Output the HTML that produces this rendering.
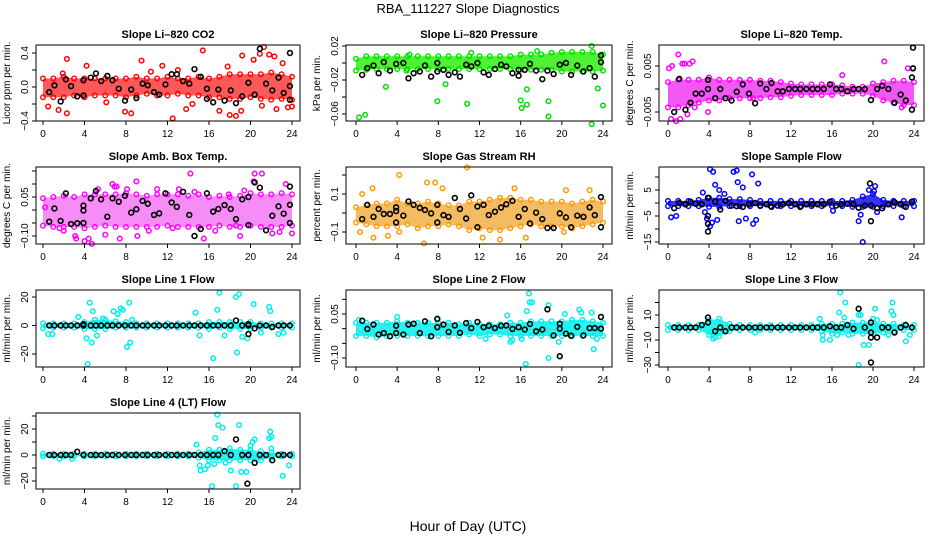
<!DOCTYPE html>
<html><head><meta charset="utf-8"><style>
html,body{margin:0;padding:0;background:#fff}
svg{display:block;font-family:"Liberation Sans",sans-serif}
</style></head><body>
<svg id="chart" width="936" height="540" viewBox="0 0 936 540">
<text x="468" y="13" text-anchor="middle" font-size="13">RBA_111227  Slope Diagnostics</text>
<text x="468" y="531" text-anchor="middle" font-size="14">Hour of Day (UTC)</text>
</svg>
<script>
const hours = [0,1,2,3,4,5,6,7,8,9,10,11,12,13,14,15,16,17,18,19,20,21,22,23,24];
const blackX = [0.6,1.1,1.7,2.2,2.7,3.3,3.9,4.6,5.1,5.6,6.2,6.7,7.3,7.9,8.5,9.0,9.6,10.1,10.7,11.2,11.8,12.4,12.9,13.5,14.1,14.6,15.2,15.8,16.4,16.9,17.5,18.1,18.6,19.2,19.8,20.4,20.9,21.5,22.1,22.7,23.2,23.8];
const xTicks = [0,4,8,12,16,20,24];

// Panel 1: CO2
const p1Lo = [-0.12,-0.12,-0.12,-0.1,-0.12,-0.1,-0.1,-0.1,-0.12,-0.1,-0.08,-0.1,-0.1,-0.08,-0.1,-0.1,-0.12,-0.12,-0.14,-0.14,-0.12,-0.14,-0.15,-0.14,-0.15];
const p1Hi = [0.1,0.1,0.12,0.1,0.1,0.1,0.1,0.1,0.1,0.12,0.1,0.1,0.12,0.1,0.1,0.12,0.1,0.12,0.15,0.15,0.15,0.15,0.17,0.15,0.12];
const p1OX = [0.5,2.3,2.3,1.5,7.9,8.5,9.5,11.5,12.5,15.4,13.8,17,18,18.6,19.2,20.3,20.9,21.3,21.8,22.3,22.5,23.6,24,19.1,4.2,13,1.9,6.1,10.4,14.4,17.8,21.1,23.1];
const p1OY = [-0.23,0.33,-0.31,-0.27,-0.29,-0.31,0.31,0.25,-0.37,0.43,-0.26,-0.28,-0.33,-0.34,0.37,0.32,0.39,0.47,0.38,0.36,-0.26,-0.24,-0.23,-0.28,0.25,0.2,0.16,-0.18,0.18,-0.2,0.24,-0.22,0.28];
const p1BY = [-0.06,0.02,-0.17,0.09,0.01,-0.11,0.08,0.11,0.16,0.07,0.13,0.08,-0.02,-0.16,-0.03,-0.13,0.04,0.02,-0.06,-0.09,0.03,0.15,0.15,0.07,0.04,0.21,0.12,-0.14,-0.18,-0.03,-0.16,-0.04,-0.19,-0.11,0.05,-0.09,0.45,0.04,-0.04,0.11,-0.07,0.4];
const p1EX = [23.8,23.8,15.8,3.9];
const p1EY = [0.01,-0.15,-0.02,-0.1];

// Panel 2: Pressure
const p2Lo = [-0.009,-0.008,-0.007,-0.007,-0.007,-0.007,-0.007,-0.007,-0.007,-0.007,-0.007,-0.007,-0.007,-0.007,-0.007,-0.007,-0.008,-0.008,-0.008,-0.008,-0.01,-0.01,-0.01,-0.01,-0.009];
const p2Hi = [0.005,0.008,0.008,0.008,0.008,0.008,0.008,0.008,0.008,0.008,0.008,0.008,0.008,0.008,0.008,0.008,0.01,0.01,0.01,0.012,0.013,0.013,0.013,0.013,0.01];
const p2OX = [0.3,0.9,2.9,7.9,8.7,10.8,11.2,16,16.1,16.6,16.6,17.6,18.7,18.7,22.9,22.9,23.5,24,5.2,4.9];
const p2OY = [-0.064,-0.061,-0.028,-0.045,-0.025,-0.048,0.012,-0.044,-0.053,-0.031,-0.049,0.014,-0.045,-0.063,-0.072,0.02,-0.03,-0.05,0.01,-0.009];
const p2BY = [-0.014,-0.006,-0.003,-0.012,0.001,-0.009,-0.001,0.0,-0.018,-0.012,-0.010,-0.003,-0.016,-0.010,-0.008,-0.014,-0.011,-0.016,-0.002,-0.004,0.0,-0.011,-0.014,-0.007,-0.002,-0.004,-0.012,-0.015,-0.008,-0.001,-0.009,-0.019,-0.009,-0.013,-0.002,0.0,-0.014,-0.003,-0.010,-0.006,-0.016,0.009];
const p2EX = [23.8,15.8,7.9];
const p2EY = [0.001,-0.008,0.0];

// Panel 3: Li-820 Temp
const p3Lo = [-0.004,-0.004,-0.0035,-0.003,-0.0025,-0.0025,-0.002,-0.002,-0.002,-0.002,-0.0018,-0.0018,-0.0015,-0.0013,-0.0013,-0.0013,-0.0013,-0.001,-0.001,-0.001,-0.0015,-0.0025,-0.003,-0.0035,-0.0035];
const p3Hi = [0.0015,0.002,0.002,0.002,0.0025,0.002,0.002,0.002,0.002,0.0018,0.0018,0.0015,0.0012,0.001,0.001,0.001,0.001,0.0008,0.0005,0.0005,0.0012,0.0015,0.0018,0.0018,0.0015];
const p3OX = [0.1,0.4,1.0,1.4,1.6,2.1,2.4,0.8,1.2,1.9,3.9,21.1,23.4,23.9,22.8,17,8.3,0.3,2.6];
const p3OY = [0.0045,0.005,0.0075,0.0055,0.0055,0.0055,0.006,-0.007,-0.0065,-0.0055,-0.005,0.006,0.0045,0.0045,-0.004,0.003,-0.002,-0.0065,-0.004];
const p3BY = [-0.005,0.0022,-0.0045,-0.003,-0.001,-0.001,0.0,-0.002,0.0,-0.002,-0.0025,-0.0006,0.001,-0.001,-0.0031,0.0012,0.0,0.0013,-0.0005,-0.0005,0.0,0.0,0.0,0.0,0.0,0.0,0.0,0.001,0.0,0.0,-0.0005,0.0,0.0,0.0,-0.0024,0.0,0.0007,0.0,-0.003,-0.0012,-0.0025,-0.0045];
const p3EX = [23.9,23.9,23.8,3.9];
const p3EY = [0.009,0.0045,0.0025,0.002];

// Panel 4: Amb. Box Temp
const p4Lo = [-0.06,-0.065,-0.065,-0.065,-0.07,-0.065,-0.06,-0.065,-0.065,-0.065,-0.065,-0.065,-0.06,-0.065,-0.065,-0.065,-0.065,-0.06,-0.065,-0.065,-0.06,-0.065,-0.065,-0.065,-0.06];
const p4Hi = [0.045,0.05,0.055,0.05,0.06,0.06,0.06,0.06,0.065,0.06,0.055,0.06,0.06,0.06,0.055,0.06,0.05,0.055,0.05,0.055,0.065,0.06,0.06,0.065,0.06];
const p4OX = [6.7,6.9,7.1,8.1,9.0,9.1,14.2,14.6,4.0,4.4,4.7,6.0,7.4,15.5,19.0,20.4,20.3,21.1,22.1,24,18.6,3.2,3.1,0.2,1.6,11,12.5,17.9,23.4,2.0,5.3,10.2,13.1,16.6,19.4,22.8];
const p4OY = [0.1,0.09,0.09,0.08,0.11,-0.1,0.14,0.07,-0.12,-0.11,-0.13,-0.095,-0.11,-0.11,-0.1,0.14,0.11,0.14,-0.09,-0.09,-0.06,-0.11,-0.1,0.01,-0.07,0.08,-0.07,0.06,0.1,-0.08,0.08,-0.08,0.08,-0.08,0.075,-0.085];
const p4BY = [-0.045,0.006,-0.042,0.064,-0.054,-0.051,0.017,0.045,0.073,0.041,-0.026,0.045,0.032,0.055,-0.01,0.003,0.035,0.024,-0.019,-0.013,0.064,0.029,0.012,0.07,-0.019,-0.1,-0.073,0.064,-0.006,0.004,0.019,0.004,-0.035,0.041,-0.058,0.106,0.086,-0.078,-0.022,0.014,-0.014,0.09];
const p4EX = [3.9,3.9,19.8,23.8,23.8];
const p4EY = [-0.002,-0.05,0.05,-0.05,0.02];

// Panel 5: Gas Stream RH
const p5Lo = [-0.05,-0.06,-0.07,-0.07,-0.07,-0.06,-0.08,-0.07,-0.07,-0.06,-0.07,-0.09,-0.08,-0.09,-0.09,-0.08,-0.07,-0.06,-0.07,-0.07,-0.07,-0.08,-0.07,-0.06,-0.05];
const p5Hi = [0.03,0.04,0.05,0.05,0.07,0.05,0.05,0.06,0.05,0.04,0.04,0.06,0.06,0.07,0.08,0.08,0.07,0.07,0.06,0.06,0.06,0.05,0.06,0.07,0.06];
const p5OX = [0.4,0.6,1.6,1.7,4.2,6.6,6.9,7.7,8.4,10.8,12.3,14.0,16.5,20.4,20.2,22.7,15.4,3.1,4.2];
const p5OY = [-0.1,0.1,0.13,-0.13,0.2,-0.16,0.16,0.16,0.13,0.24,-0.13,-0.14,-0.13,0.12,-0.1,0.12,0.13,-0.12,-0.1];
const p5BY = [-0.032,0.043,-0.02,0.021,-0.005,-0.005,0.01,-0.014,0.061,0.043,0.027,0.016,-0.002,0.043,-0.011,-0.02,0.079,0.021,-0.029,0.093,0.034,0.043,-0.011,0.007,0.029,0.046,0.064,-0.02,0.021,-0.055,0.002,-0.032,-0.079,-0.079,-0.002,-0.023,-0.075,-0.014,-0.02,0.03,-0.011,0.084];
const p5EX = [3.9,3.9,7.9,11.8,23.8];
const p5EY = [0.03,-0.05,-0.05,-0.075,-0.075];

// Panel 6: Sample Flow
const p6Lo = [-1.2,-1.2,-1.2,-1.2,-1.5,-1.5,-1.2,-1.2,-1.2,-1.2,-1.2,-1.2,-1.2,-1.2,-1.2,-1.2,-1.2,-1.2,-1.5,-1.5,-1.5,-1.2,-1.2,-1.2,-1.2];
const p6Hi = [0.8,0.8,0.8,1.2,2,2,1.5,1.5,1.2,0.8,0.8,0.8,0.8,0.8,0.8,0.8,0.8,0.8,1.2,2.5,3.5,1.2,0.8,0.8,0.8];
const p6OX = [0.3,0.8,3.4,3.6,4.1,4.4,4.6,4.8,5.0,4.3,4.1,6.4,6.7,6.8,6.9,7.3,7.6,8.2,8.3,8.6,8.8,18.6,18.8,19.0,19.6,20.1,20.2,20.4,22.8,16.1,5.5,3.8];
const p6OY = [-5.5,-5,4,-3.5,13,12,7,-6.5,5,-7.5,-9,12,12.5,8,-7,6,-6,11,-8,-6.5,7.5,-7,-4.5,-15,5,4.5,6.5,-3.5,-5.5,-3,3.5,-6];
const p6BY = [-2,0,-0.5,0.5,-0.3,-0.5,2,0.5,-2.5,0.8,-1,-1.2,-1.5,-0.5,0,-1,-0.5,-1.5,-1,-0.5,0,-0.5,-1.5,-0.5,-0.5,-0.5,-0.5,0.5,-1,-0.5,-0.3,-0.5,-1.8,-1,-1,-2,-2,-0.5,0.3,-0.5,-1.5,0.5];
const p6EX = [3.9,3.9,3.9,19.7,19.8];
const p6EY = [-11,-8,-5,7.5,-7];

// Panel 7: Line 1 Flow
const p7Lo = [-2,-1.5,-1.5,-1.5,-2.5,-2.5,-2.5,-1.5,-1.5,-1.5,-1.5,-1.5,-1.5,-1.5,-1.5,-1.5,-2.5,-1.5,-2.5,-2.5,-2.5,-1.5,-1.5,-1.5,-1.5];
const p7Hi = [1.5,1.5,1.5,1.5,2.5,4,4,3,2.5,1.5,1.5,1.5,1.5,1.5,1.5,1.5,2.5,2.5,2.5,2.5,2.5,1.5,1.5,1.5,1.5];
const p7OX = [0.5,0.9,4.2,4.3,4.5,4.8,4.7,5.2,3.4,6.8,7.2,7.5,7.7,8.1,8.3,8.4,8.6,14.7,15.1,16.4,16.8,17.0,17.5,18.6,18.7,18.9,19.2,19.7,20.3,21,21.8,21.9,22.7,23.2,5.8];
const p7OY = [-6,-6,-9,-27,16,10,-12,-7,6,10,8,12,11,-15,16,-12,4,9,-7,-23,11,23,-7,20,-19,22,-8,-9,15,-5,13,10,-6,-5,5];
const p7BY = [0,0,0,0,0,0,0,0,0,0,0,0,0,0,0,0,0,0,0,0,0,0,0,0,0,0,0,0,0,0,0,0,3.5,0,0,-2,0,0,-1,0,0,0];
const p7EX = [3.9,19.8,19.8];
const p7EY = [1,-6,1];

// Panel 8: Line 2 Flow
const p8Lo = [-0.025,-0.025,-0.03,-0.025,-0.025,-0.025,-0.025,-0.025,-0.025,-0.025,-0.025,-0.02,-0.025,-0.02,-0.02,-0.025,-0.025,-0.025,-0.025,-0.025,-0.025,-0.025,-0.025,-0.025,-0.025];
const p8Hi = [0.02,0.02,0.02,0.02,0.025,0.02,0.02,0.02,0.02,0.02,0.015,0.02,0.015,0.015,0.015,0.02,0.02,0.025,0.025,0.025,0.025,0.03,0.03,0.025,0.02];
const p8OX = [16.8,16.9,17.1,16.6,18.7,18.7,16.5,15.0,15.2,16.1,19.7,23.1,23.4,21.7,21.9,20.3,14.7,12.6,0.3,4.0,7.9,22.9];
const p8OY = [0.12,0.09,0.09,0.06,0.08,-0.1,-0.12,-0.045,-0.04,-0.035,-0.045,-0.07,-0.035,0.065,0.055,0.05,0.045,-0.035,0.03,0.04,0.035,0.055];
const p8BY = [0.027,-0.001,0.014,-0.02,-0.015,-0.026,-0.015,-0.02,0.014,0.017,-0.015,0.025,-0.026,0.033,0.014,-0.011,0.011,-0.014,0.019,0.002,0.023,0.005,0.01,0.002,0.01,0.011,-0.001,0.005,-0.003,0.016,-0.009,-0.003,0.066,-0.023,0.017,-0.017,-0.024,0.006,-0.023,0.002,0.002,0.04];
const p8EX = [19.8,19.8,7.9,3.9,23.8];
const p8EY = [-0.094,0.0,0.005,0.01,0.0];

// Panel 9: Line 3 Flow
const p9Lo = [-2,-2,-2,-2,-6,-7,-3,-2,-2,-2,-2,-2,-2,-2,-2,-3,-5,-4,-5,-5,-5,-4,-3,-2,-2];
const p9Hi = [2,2,2,2,6,7,3,2,2,2,2,2,2,2,2,3,3,3,4,4,4,3,3,2,2];
const p9OX = [4.4,4.6,4.2,8.5,14.8,15.1,15.1,15.8,16.5,16.7,16.8,17.2,17.3,17.6,18.6,18.6,18.8,19.1,19.6,20.0,20.2,20.4,21.5,21.8,21.9,22.0,23.2,23.6];
const p9OY = [-9,-8,-4,-4,7,-6,-10,-10,-6,12,28,8,20,-6,-30,10,10,-14,-14,7,15,6,-6,13,20,10,-11,-6];
const p9BY = [0,0,0,0,0,2,8,-3,0,-3,0,0,0,0,0,0,0,0,0,0,0,0,0,0,0,0,0,1,0,0,2,-1,15,0,4,-8,0,0,-4,0,2,0];
const p9EX = [3.9,19.8,19.8,19.8];
const p9EY = [4,-28,-8,-4];

// Panel 10: Line 4 (LT) Flow
const p10Lo = [-1,-1,-1,-1,-1,-1,-1,-1,-1,-1,-1,-1,-1,-1,-1,-2,-4,-4,-4,-4,-4,-4,-2,-1,-1];
const p10Hi = [1,1,1,1,1,1,1,1,1,1,1,1,1,1,1,2,4,4,5,4,4,3,2,1,1];
const p10OX = [14.8,15.1,15.2,15.6,15.9,16.3,16.5,16.6,16.8,16.9,17.3,17.6,18.1,18.6,18.9,19.1,19.6,20.0,20.2,20.4,21.8,21.9,22.0,22.0,23.1,23.7,1.6,2.8];
const p10OY = [8,-8,-12,-11,-8,-24,-7,13,31,23,21,-6,-12,-24,23,-13,-13,7,10,12,13,18,14,5,-16,-8,-3,-3];
const p10BY = [0,0,0,0,0,2.5,0,0,0,0,0,0,0,0,0,0,0,0,0,0,0,0,0,0,0,0,0,0,0,0,3,0,12,0,0,-6,0,0,-4,0,0,0];
const p10EX = [19.7,19.8];
const p10EY = [-22,0];

const colL = [36,346,659], colR = [300,612,924];
const colX0 = [43,356,668], colX1 = [292,603,914];
const rowT = [45,167,290,413], rowB = [121,244,367,489];

const panels = [
 {n:'co2',row:0,col:0,title:'Slope Li\u2013820 CO2',ylab:'Licor ppm per min.',map:[0.4,53,-0.4,121],ticks:[-0.4,-0.2,0,0.2,0.4],labs:[[-0.4,'\u22120.4'],[0,'0.0'],[0.4,'0.4']],color:'#ff0000',band:'#ff2020',op:0.75,lo:p1Lo,hi:p1Hi,ox:p1OX,oy:p1OY,by:p1BY,ex:p1EX,ey:p1EY},
 {n:'pressure',row:0,col:1,title:'Slope Li\u2013820 Pressure',ylab:'kPa per min.',map:[0.02,46,-0.06,114],ticks:[-0.06,-0.04,-0.02,0,0.02],labs:[[-0.06,'\u22120.06'],[-0.02,'\u22120.02'],[0.02,'0.02']],color:'#00e000',band:'#22ee00',op:0.8,lo:p2Lo,hi:p2Hi,ox:p2OX,oy:p2OY,by:p2BY,ex:p2EX,ey:p2EY},
 {n:'li820-temp',row:0,col:2,title:'Slope Li\u2013820 Temp.',ylab:'degrees C per min.',map:[0.005,66,-0.005,112],ticks:[-0.005,0,0.005],labs:[[-0.005,'\u22120.005'],[0.005,'0.005']],color:'#ff00ff',band:'#f020f0',op:0.75,lo:p3Lo,hi:p3Hi,ox:p3OX,oy:p3OY,by:p3BY,ex:p3EX,ey:p3EY},
 {n:'amb-box-temp',row:1,col:0,title:'Slope Amb. Box Temp.',ylab:'degrees C per min.',map:[0.05,197,-0.10,236],ticks:[-0.1,-0.05,0,0.05,0.1,0.15],labs:[[-0.1,'\u22120.10'],[0.05,'0.05']],color:'#ff00ff',band:'#f040f0',op:0.6,lo:p4Lo,hi:p4Hi,ox:p4OX,oy:p4OY,by:p4BY,ex:p4EX,ey:p4EY},
 {n:'gas-stream-rh',row:1,col:1,title:'Slope Gas Stream RH',ylab:'percent per min.',map:[0.1,194,-0.1,232],ticks:[-0.1,0,0.1,0.2],labs:[[-0.1,'\u22120.1'],[0.1,'0.1']],color:'#ff9900',band:'#f0a020',op:0.7,lo:p5Lo,hi:p5Hi,ox:p5OX,oy:p5OY,by:p5BY,ex:p5EX,ey:p5EY},
 {n:'sample-flow',row:1,col:2,title:'Slope Sample Flow',ylab:'ml/min per min.',map:[5,190,-5,216],ticks:[-15,-10,-5,0,5,10],labs:[[-15,'\u221215'],[-5,'\u22125'],[5,'5']],color:'#0000ff',band:'#1010ee',op:0.85,lo:p6Lo,hi:p6Hi,ox:p6OX,oy:p6OY,by:p6BY,ex:p6EX,ey:p6EY},
 {n:'line1-flow',row:2,col:0,title:'Slope Line 1 Flow',ylab:'ml/min per min.',map:[20,297,-20,354],ticks:[-20,0,20],labs:[[-20,'\u221220'],[0,'0'],[20,'20']],color:'#00eeee',band:'#00f0f0',op:0.85,lo:p7Lo,hi:p7Hi,ox:p7OX,oy:p7OY,by:p7BY,ex:p7EX,ey:p7EY},
 {n:'line2-flow',row:2,col:1,title:'Slope Line 2 Flow',ylab:'ml/min per min.',map:[0.05,314,-0.10,358],ticks:[-0.1,-0.05,0,0.05,0.1],labs:[[-0.1,'\u22120.10'],[0.05,'0.05']],color:'#00eeee',band:'#00f0f0',op:0.85,lo:p8Lo,hi:p8Hi,ox:p8OX,oy:p8OY,by:p8BY,ex:p8EX,ey:p8EY},
 {n:'line3-flow',row:2,col:2,title:'Slope Line 3 Flow',ylab:'ml/min per min.',map:[10,315,-10,340],ticks:[-30,-20,-10,0,10,20],labs:[[-30,'\u221230'],[-10,'\u221210'],[10,'10']],color:'#00eeee',band:'#00f0f0',op:0.85,lo:p9Lo,hi:p9Hi,ox:p9OX,oy:p9OY,by:p9BY,ex:p9EX,ey:p9EY},
 {n:'line4-flow',row:3,col:0,title:'Slope Line 4 (LT) Flow',ylab:'ml/min per min.',map:[20,429,-20,481],ticks:[-20,-10,0,10,20,30],labs:[[-20,'\u221220'],[0,'0'],[20,'20']],color:'#00eeee',band:'#00f0f0',op:0.85,lo:p10Lo,hi:p10Hi,ox:p10OX,oy:p10OY,by:p10BY,ex:p10EX,ey:p10EY}
];

const svg = document.getElementById('chart');
const NS = 'http://www.w3.org/2000/svg';
function mk(tag, attrs, parent){
  const e = document.createElementNS(NS, tag);
  for (const k in attrs) e.setAttribute(k, attrs[k]);
  (parent||svg).appendChild(e);
  return e;
}

panels.forEach(p => {
  const L = colL[p.col], R = colR[p.col], T = rowT[p.row], B = rowB[p.row];
  const x0 = colX0[p.col], x1 = colX1[p.col];
  const xs = h => x0 + h * (x1 - x0) / 24;
  const [v1, py1, v2, py2] = p.map;
  const ys = v => py1 + (v - v1) * (py2 - py1) / (v2 - v1);

  const g = mk('g', {});
  
  

  const t = mk('text', {x:(L+R)/2, y:T-7, 'text-anchor':'middle', 'font-size':11, 'font-weight':'bold'}, g);
  t.textContent = p.title;
  
  

  const yl = mk('text', {x:0, y:0, 'text-anchor':'middle', 'font-size':10, transform:`translate(${L-26},${(T+B)/2}) rotate(-90)`}, g);
  yl.textContent = p.ylab;
  
  

  // band
  let d = '';
  hours.forEach((h, i) => { d += (i ? 'L' : 'M') + xs(h).toFixed(1) + ',' + ys(p.hi[i]).toFixed(1); });
  for (let i = hours.length - 1; i >= 0; i--) d += 'L' + xs(hours[i]).toFixed(1) + ',' + ys(p.lo[i]).toFixed(1);
  const band = mk('path', {d: d + 'Z', fill: p.band, 'fill-opacity': p.op, stroke: 'none'}, g);
  
  

  // band edge markers
  hours.forEach((h, i) => {
    [p.hi[i], p.lo[i]].forEach(v => {
      const c = mk('circle', {cx: xs(h), cy: ys(v), r: 2.3, fill: 'none', stroke: p.color, 'stroke-width': 1.4}, g);
      
      
    });
  });

  // outliers
  p.ox.forEach((h, i) => {
    const c = mk('circle', {cx: xs(h), cy: ys(p.oy[i]), r: 2.3, fill: 'none', stroke: p.color, 'stroke-width': 1.5}, g);
    
    
  });

  // black points
  blackX.forEach((h, i) => {
    const c = mk('circle', {cx: xs(h), cy: ys(p.by[i]), r: 2.4, fill: 'none', stroke: '#000', 'stroke-width': 1.6}, g);
    
    
  });
  p.ex.forEach((h, i) => {
    const c = mk('circle', {cx: xs(h), cy: ys(p.ey[i]), r: 2.4, fill: 'none', stroke: '#000', 'stroke-width': 1.6}, g);
    
    
  });

  // box
  const box = mk('rect', {x:L, y:T, width:R-L, height:B-T, fill:'none', stroke:'#000', 'stroke-width':1}, g);
  
  

  // x axis
  xTicks.forEach(h => {
    const tk = mk('line', {x1:xs(h), x2:xs(h), y1:B, y2:B+4, stroke:'#000'}, g);
    
    
    const tl = mk('text', {x:xs(h), y:B+16, 'text-anchor':'middle', 'font-size':10}, g);
    tl.textContent = h;
    
    
  });
  // y axis
  p.ticks.forEach(v => {
    const tk = mk('line', {x1:L-4, x2:L, y1:ys(v), y2:ys(v), stroke:'#000'}, g);
    
    
  });
  p.labs.forEach(([v, s]) => {
    const tl = mk('text', {x:0, y:0, 'text-anchor':'middle', 'font-size':10, transform:`translate(${L-8},${ys(v)}) rotate(-90)`}, g);
    tl.textContent = s;
    
    
  });
});
</script>
</body></html>
